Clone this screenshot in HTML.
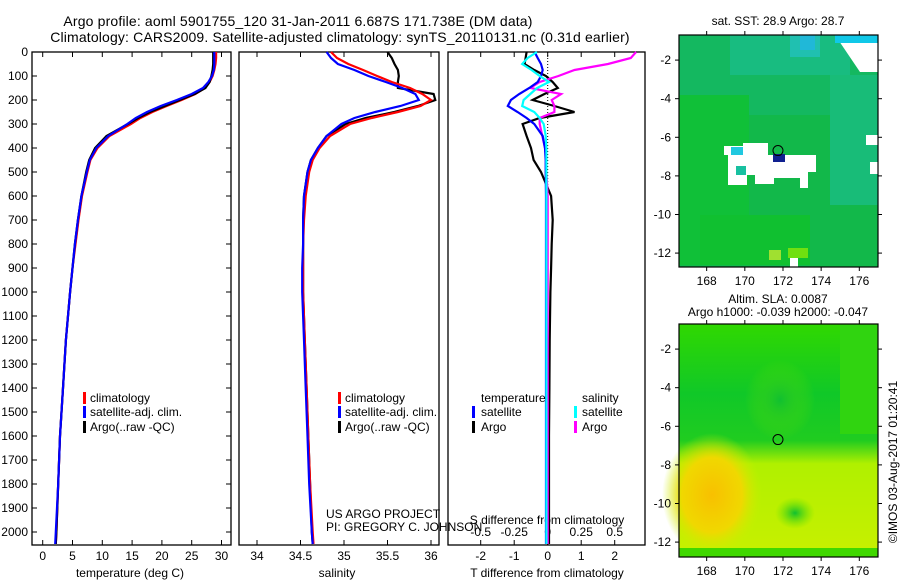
<!DOCTYPE html>
<html><head><meta charset="utf-8"><style>
html,body{margin:0;padding:0;background:#fff;}
svg{display:block;font-family:"Liberation Sans",Arial,sans-serif;font-size:12px;}
text{fill:#000;}
.lbl{font-size:12px;}
.ttl{font-size:14px;letter-spacing:0.15px;}
</style></head><body>
<svg id="chart" width="900" height="580" viewBox="0 0 900 580" xmlns="http://www.w3.org/2000/svg">
<defs>
<radialGradient id="orangeBlob" cx="0.5" cy="0.5" r="0.5"><stop offset="0" stop-color="#f8c000"/><stop offset="0.6" stop-color="#f0d800"/><stop offset="1" stop-color="#c8f000" stop-opacity="0"/></radialGradient>
<radialGradient id="greenBlob" cx="0.5" cy="0.5" r="0.5"><stop offset="0" stop-color="#10c030"/><stop offset="1" stop-color="#60e000" stop-opacity="0"/></radialGradient>
<linearGradient id="slaGrad" x1="0" y1="0" x2="0" y2="1"><stop offset="0" stop-color="#30d800"/><stop offset="0.3" stop-color="#10c828"/><stop offset="0.5" stop-color="#20cc20"/><stop offset="0.6" stop-color="#b0f000"/><stop offset="1" stop-color="#c8f000"/></linearGradient>
</defs>
<text x="298" y="26" text-anchor="middle" class="ttl">Argo profile: aoml 5901755_120 31-Jan-2011 6.687S 171.738E (DM data)</text>
<text x="340" y="42" text-anchor="middle" class="ttl">Climatology: CARS2009. Satellite-adjusted climatology: synTS_20110131.nc (0.31d earlier)</text>
<g id="p1"></g>
<g id="p2"></g>
<g id="p3"></g>
<g id="m1"></g>
<g id="m2"></g>
<text x="0" y="0" transform="translate(897,462) rotate(-90)" text-anchor="middle" class="lbl">©IMOS 03-Aug-2017 01:20:41</text>
</svg>
<script>
const depths = [0,25,50,75,100,125,150,175,200,225,250,275,300,350,400,450,500,600,700,800,900,1000,1200,1400,1600,1800,2000,2050];
const tempArgo = [28.6,28.6,28.6,28.5,28.3,28.0,27.3,25.5,23.0,20.5,18.0,16.0,14.3,10.7,8.8,7.8,7.3,6.5,5.9,5.4,5.0,4.6,3.9,3.4,2.9,2.6,2.3,2.2];
const tempClim = [29.1,29.1,29.0,28.8,28.5,28.0,27.2,25.6,23.3,20.8,18.4,16.4,14.8,11.2,9.2,8.0,7.5,6.6,6.0,5.5,5.0,4.6,3.9,3.4,2.9,2.6,2.3,2.2];
const tempSat = [28.8,28.8,28.8,28.7,28.4,27.8,26.9,25.0,22.5,19.8,17.5,15.6,14.2,11.0,9.0,7.9,7.4,6.5,5.9,5.4,5.0,4.6,3.9,3.4,2.9,2.6,2.2,2.1];
const salArgo = [35.50,35.55,35.58,35.62,35.63,35.62,35.62,36.03,36.05,35.85,35.58,35.25,35.02,34.80,34.70,34.62,34.58,34.54,34.53,34.53,34.53,34.53,34.55,34.57,34.59,34.61,34.63,34.64];
const salClim = [34.85,34.92,35.05,35.22,35.38,35.55,35.76,35.90,36.00,35.88,35.62,35.32,35.07,34.84,34.72,34.64,34.60,34.56,34.54,34.53,34.53,34.53,34.55,34.57,34.59,34.61,34.64,34.65];
const salSat = [34.80,34.85,34.93,35.12,35.28,35.48,35.67,35.82,35.86,35.65,35.36,35.12,34.97,34.80,34.70,34.62,34.58,34.54,34.53,34.53,34.52,34.52,34.54,34.56,34.58,34.60,34.63,34.64];
const dTArgo = [-0.63,-0.66,-0.69,-0.4,-0.05,0.15,0.3,-0.1,-0.45,0.2,0.8,-0.24,-0.75,-0.63,-0.5,-0.42,-0.2,0.1,0.15,0.12,0.1,0.08,0.06,0.05,0.04,0.04,0.04,0.04];
const dTSat = [-0.39,-0.3,-0.2,-0.15,-0.2,-0.3,-0.55,-0.85,-1.1,-1.19,-0.9,-0.63,-0.4,-0.15,-0.08,-0.06,-0.06,-0.05,-0.05,-0.05,-0.05,-0.05,-0.05,-0.05,-0.05,-0.05,-0.05,-0.05];
const dSSat = [-0.08,-0.15,-0.19,-0.12,-0.06,0.01,-0.08,-0.13,-0.18,-0.19,-0.1,-0.06,-0.03,-0.015,-0.01,-0.01,-0.01,-0.01,-0.01,-0.01,-0.01,-0.01,-0.01,-0.01,-0.01,-0.01,-0.01,-0.01];
const dSArgo = [0.66,0.62,0.45,0.2,0.08,-0.06,-0.13,0.1,0.03,0.05,0.05,-0.06,-0.06,-0.04,-0.02,-0.01,-0.01,0,0,0,0,0,0,0,0,0,0,0];
const depthTicks = [0,100,200,300,400,500,600,700,800,900,1000,1100,1200,1300,1400,1500,1600,1700,1800,1900,2000];
const tempTicks = [0,5,10,15,20,25,30];
const salTicks = [34,34.5,35,35.5,36];
const salTickLabels = ["34","34.5","35","35.5","36"];
const dTTicks = [-2,-1,0,1,2];
const dSTicks = [-0.5,-0.25,0,0.25,0.5];
const dSTickLabels = ["-0.5","-0.25","0","0.25","0.5"];
const lonTicks = [168,170,172,174,176];
const latTicks = [-2,-4,-6,-8,-10,-12];
const argoLon = 171.738, argoLat = -6.687;

const NS='http://www.w3.org/2000/svg';
function mk(parent,tag,attrs,txt){const e=document.createElementNS(NS,tag);for(const k in attrs)e.setAttribute(k,attrs[k]);if(txt!==undefined)e.textContent=txt;parent.appendChild(e);return e;}
const TOP=52,BOT=545;
const yD = d => TOP + d*0.24;
const xT = t => 42.7 + t*5.96;
const xS = s => 257 + (s-34)*87;
const xdT = t => 547.7 + t*33.5;
const xdS = s => 547.7 + s*134;

function frame(g,x0,x1,name){
  const r=mk(g,'rect',{x:x0,y:TOP,width:x1-x0,height:BOT-TOP,fill:'none',stroke:'#000','stroke-width':1.3});
  
  
}
function line(g,xs,xf,color,name){
  const pts=depths.map((d,i)=>xf(xs[i]).toFixed(1)+','+yD(d).toFixed(1)).join(' ');
  const p=mk(g,'polyline',{points:pts,fill:'none',stroke:color,'stroke-width':2.2,'stroke-linejoin':'miter'});
  
  
}
function xticks(g,ticks,labels,xf,ly,name){
  ticks.forEach((t,i)=>{
    const x=xf(t);
    mk(g,'line',{x1:x,y1:TOP,x2:x,y2:TOP+5,stroke:'#000'});
    mk(g,'line',{x1:x,y1:BOT,x2:x,y2:BOT-5,stroke:'#000'});
    const tx=mk(g,'text',{x:x,y:ly,'text-anchor':'middle',class:'lbl'},labels[i]);
    
    
  });
}
function legendBar(g,x,y,color){mk(g,'rect',{x:x,y:y-10,width:3,height:12,fill:color});}

// Panel 1
const p1=document.getElementById('p1');
frame(p1,32,231,'temperature-plot-frame');
depthTicks.forEach(d=>{
  const y=yD(d);
  mk(p1,'line',{x1:32,y1:y,x2:37,y2:y,stroke:'#000'});
  mk(p1,'line',{x1:231,y1:y,x2:226,y2:y,stroke:'#000'});
  const t=mk(p1,'text',{x:28,y:y+4,'text-anchor':'end'},String(d));
  
  
});
xticks(p1,tempTicks,tempTicks.map(String),xT,560,'temperature-tick-label');
mk(p1,'text',{x:130,y:577,'text-anchor':'middle',class:'lbl'},'temperature (deg C)');
line(p1,tempClim,xT,'#ff0000','temp-climatology-line');
line(p1,tempArgo,xT,'#000000','temp-argo-line');
line(p1,tempSat,xT,'#0000ff','temp-satellite-line');
[['climatology','#ff0000',402],['satellite-adj. clim.','#0000ff',416],['Argo(..raw -QC)','#000',431]].forEach(l=>{
  legendBar(p1,83,l[2],l[1]);
  const t=mk(p1,'text',{x:90,y:l[2],class:'lbl'},l[0]);
  
  
});

// Panel 2
const p2=document.getElementById('p2');
frame(p2,239,439,'salinity-plot-frame');
xticks(p2,salTicks,salTickLabels,xS,560,'salinity-tick-label');
mk(p2,'text',{x:337,y:577,'text-anchor':'middle',class:'lbl'},'salinity');
line(p2,salArgo,xS,'#000000','sal-argo-line');
line(p2,salClim,xS,'#ff0000','sal-climatology-line');
line(p2,salSat,xS,'#0000ff','sal-satellite-line');
[['climatology','#ff0000',402],['satellite-adj. clim.','#0000ff',416],['Argo(..raw -QC)','#000',431]].forEach(l=>{
  legendBar(p2,338,l[2],l[1]);
  const t=mk(p2,'text',{x:345,y:l[2],class:'lbl'},l[0]);
  
  
});
mk(p2,'text',{x:326,y:518,class:'lbl'},'US ARGO PROJECT');
mk(p2,'text',{x:326,y:531,class:'lbl'},'PI: GREGORY C. JOHNSON');

// Panel 3
const p3=document.getElementById('p3');
frame(p3,448,645,'difference-plot-frame');
mk(p3,'line',{x1:xdT(0),y1:TOP,x2:xdT(0),y2:BOT,stroke:'#000','stroke-dasharray':'1,2'});
dTTicks.forEach(t=>{const x=xdT(t);mk(p3,'line',{x1:x,y1:TOP,x2:x,y2:TOP+5,stroke:'#000'});mk(p3,'line',{x1:x,y1:BOT,x2:x,y2:BOT-5,stroke:'#000'});
  const tx=mk(p3,'text',{x:x,y:560,'text-anchor':'middle',class:'lbl'},String(t));
  
  });
dSTicks.forEach((s,i)=>{const tx=mk(p3,'text',{x:xdS(s),y:536,'text-anchor':'middle',class:'lbl'},dSTickLabels[i]);
  
  });
mk(p3,'text',{x:547,y:524,'text-anchor':'middle',class:'lbl'},'S difference from climatology');
mk(p3,'text',{x:547,y:577,'text-anchor':'middle',class:'lbl'},'T difference from climatology');
line(p3,dTArgo,xdT,'#000000','dT-argo-line');
line(p3,dSArgo,xdS,'#ff00ff','dS-argo-line');
line(p3,dTSat,xdT,'#0000ff','dT-satellite-line');
line(p3,dSSat,xdS,'#00ffff','dS-satellite-line');
mk(p3,'text',{x:481,y:402,class:'lbl'},'temperature');
mk(p3,'text',{x:582,y:402,class:'lbl'},'salinity');
legendBar(p3,472,416,'#0000ff');mk(p3,'text',{x:481,y:416,class:'lbl'},'satellite');
legendBar(p3,472,431,'#000');mk(p3,'text',{x:481,y:431,class:'lbl'},'Argo');
legendBar(p3,574,416,'#00ffff');mk(p3,'text',{x:582,y:416,class:'lbl'},'satellite');
legendBar(p3,574,431,'#ff00ff');mk(p3,'text',{x:582,y:431,class:'lbl'},'Argo');

// Maps
const MX0=679,MX1=878;
const lonX = l => 679 + (l-166.55)*19.08;
function mapAxes(g,y0,y1){
  const latY = la => y0 + (-0.7-la)*19.3;
  mk(g,'rect',{x:MX0,y:y0,width:MX1-MX0,height:y1-y0,fill:'none',stroke:'#000','stroke-width':1.2});
  lonTicks.forEach(l=>{const x=lonX(l);mk(g,'line',{x1:x,y1:y0,x2:x,y2:y0-4,stroke:'#000'});mk(g,'line',{x1:x,y1:y1,x2:x,y2:y1+4,stroke:'#000'});
    const t=mk(g,'text',{x:x,y:y1+18,'text-anchor':'middle',class:'lbl'},String(l));
    
    });
  latTicks.forEach(la=>{const y=latY(la);mk(g,'line',{x1:MX0,y1:y,x2:MX0-4,y2:y,stroke:'#000'});mk(g,'line',{x1:MX1,y1:y,x2:MX1+4,y2:y,stroke:'#000'});
    const t=mk(g,'text',{x:MX0-8,y:y+4,'text-anchor':'end',class:'lbl'},String(la));
    
    });
  const c=mk(g,'circle',{cx:lonX(argoLon),cy:latY(argoLat),r:5,fill:'none',stroke:'#000','stroke-width':1});
  
  
  return latY;
}
// Map 1 (SST)
const m1=document.getElementById('m1');
const T0=35,T1=267;
mk(m1,'rect',{x:MX0,y:T0,width:199,height:232,fill:'#12b84a'});
mk(m1,'rect',{x:MX0,y:T0,width:199,height:80,fill:'#14b860'});
mk(m1,'rect',{x:730,y:T0,width:120,height:40,fill:'#18bc80'});
mk(m1,'rect',{x:790,y:T0,width:30,height:22,fill:'#20c0b0'});
mk(m1,'rect',{x:800,y:T0,width:15,height:15,fill:'#20b8d8'});
mk(m1,'rect',{x:830,y:75,width:48,height:130,fill:'#18bc78'});
mk(m1,'rect',{x:MX0,y:95,width:70,height:170,fill:'#10c038'});
mk(m1,'rect',{x:700,y:215,width:110,height:50,fill:'#10c030'});
mk(m1,'polygon',{points:'835,35 878,35 878,72 860,72',fill:'#fff'});
mk(m1,'rect',{x:835,y:35,width:43,height:8,fill:'#10c8e8'});
mk(m1,'polygon',{points:'724,146 743,146 743,143 768,143 768,155 816,155 816,162 816,172 808,172 808,188 800,188 800,178 774,178 774,184 755,184 755,175 747,175 747,185 728,185 728,155 724,155',fill:'#fff'});
mk(m1,'rect',{x:731,y:147,width:12,height:8,fill:'#20c8e0'});
mk(m1,'rect',{x:736,y:166,width:10,height:9,fill:'#18c0a0'});
mk(m1,'rect',{x:773,y:154,width:12,height:8,fill:'#102090'});
mk(m1,'rect',{x:866,y:135,width:12,height:10,fill:'#fff'});
mk(m1,'rect',{x:870,y:162,width:8,height:12,fill:'#fff'});
mk(m1,'rect',{x:769,y:250,width:12,height:10,fill:'#a0e030'});
mk(m1,'rect',{x:788,y:248,width:20,height:10,fill:'#70e010'});
mk(m1,'rect',{x:790,y:258,width:8,height:9,fill:'#fff'});
mapAxes(m1,T0,T1);
mk(m1,'text',{x:778,y:25,'text-anchor':'middle',class:'lbl'},'sat. SST: 28.9 Argo: 28.7');
// Map 2 (SLA)
const m2=document.getElementById('m2');
const B0=324,B1=557;
mk(m2,'rect',{x:MX0,y:B0,width:199,height:233,fill:'url(#slaGrad)'});
mk(m2,'rect',{x:840,y:B0,width:38,height:110,fill:'#30d410'});
mk(m2,'ellipse',{cx:712,cy:495,rx:50,ry:62,fill:'url(#orangeBlob)'});
mk(m2,'ellipse',{cx:795,cy:513,rx:20,ry:16,fill:'url(#greenBlob)'});
mk(m2,'ellipse',{cx:780,cy:400,rx:35,ry:40,fill:'url(#greenBlob)'});
mk(m2,'rect',{x:MX0,y:548,width:199,height:9,fill:'#40d800'});
mapAxes(m2,B0,B1);
mk(m2,'text',{x:778,y:303,'text-anchor':'middle',class:'lbl'},'Altim. SLA: 0.0087');
mk(m2,'text',{x:778,y:316,'text-anchor':'middle',class:'lbl'},'Argo h1000: -0.039 h2000: -0.047');
</script>
</body></html>
